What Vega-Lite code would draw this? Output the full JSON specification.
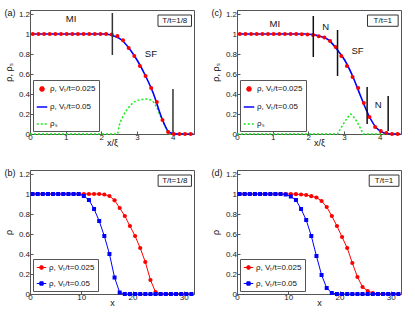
{
  "$schema": "https://vega.github.io/schema/vega-lite/v6.json",
  "padding": {"left": 3, "top": 8, "right": 5, "bottom": 5},
  "bounds": "flush",
  "columns": 2,
  "spacing": {"row": 36, "column": 43},
  "resolve": {"scale": {"x": "independent", "y": "independent", "color": "independent"}, "legend": {"color": "independent"}, "axis": {"x": "independent", "y": "independent"}},
  "datasets": {
    "A": [
      {"s": "r", "x": 0.079, "rho": 1}, {"s": "r", "x": 0.237, "rho": 1}, {"s": "r", "x": 0.395, "rho": 1}, {"s": "r", "x": 0.553, "rho": 1}, {"s": "r", "x": 0.711, "rho": 1}, {"s": "r", "x": 0.870, "rho": 1}, {"s": "r", "x": 1.028, "rho": 1}, {"s": "r", "x": 1.186, "rho": 1}, {"s": "r", "x": 1.344, "rho": 1}, {"s": "r", "x": 1.502, "rho": 1}, {"s": "r", "x": 1.660, "rho": 1}, {"s": "r", "x": 1.818, "rho": 1}, {"s": "r", "x": 1.976, "rho": 1}, {"s": "r", "x": 2.134, "rho": 1}, {"s": "r", "x": 2.293, "rho": 0.995}, {"s": "r", "x": 2.451, "rho": 0.98}, {"s": "r", "x": 2.609, "rho": 0.937}, {"s": "r", "x": 2.767, "rho": 0.86}, {"s": "r", "x": 2.925, "rho": 0.78}, {"s": "r", "x": 3.083, "rho": 0.68}, {"s": "r", "x": 3.241, "rho": 0.58}, {"s": "r", "x": 3.399, "rho": 0.46}, {"s": "r", "x": 3.557, "rho": 0.32}, {"s": "r", "x": 3.716, "rho": 0.14}, {"s": "r", "x": 3.874, "rho": 0.02}, {"s": "r", "x": 4.032, "rho": 0}, {"s": "r", "x": 4.190, "rho": 0}, {"s": "r", "x": 4.348, "rho": 0}, {"s": "r", "x": 4.506, "rho": 0},
      {"s": "b", "x": 0.112, "rho": 1}, {"s": "b", "x": 0.335, "rho": 1}, {"s": "b", "x": 0.559, "rho": 1}, {"s": "b", "x": 0.783, "rho": 1}, {"s": "b", "x": 1.006, "rho": 1}, {"s": "b", "x": 1.230, "rho": 1}, {"s": "b", "x": 1.453, "rho": 1}, {"s": "b", "x": 1.677, "rho": 1}, {"s": "b", "x": 1.901, "rho": 1}, {"s": "b", "x": 2.124, "rho": 1}, {"s": "b", "x": 2.348, "rho": 0.98}, {"s": "b", "x": 2.572, "rho": 0.94}, {"s": "b", "x": 2.795, "rho": 0.85}, {"s": "b", "x": 3.019, "rho": 0.73}, {"s": "b", "x": 3.242, "rho": 0.58}, {"s": "b", "x": 3.466, "rho": 0.40}, {"s": "b", "x": 3.690, "rho": 0.165}, {"s": "b", "x": 3.913, "rho": 0.015}, {"s": "b", "x": 4.137, "rho": 0}, {"s": "b", "x": 4.360, "rho": 0}, {"s": "b", "x": 4.584, "rho": 0},
      {"s": "g", "x": 0, "rho": 0}, {"s": "g", "x": 2.45, "rho": 0}, {"s": "g", "x": 2.5, "rho": 0.08}, {"s": "g", "x": 2.6, "rho": 0.17}, {"s": "g", "x": 2.78, "rho": 0.27}, {"s": "g", "x": 2.97, "rho": 0.33}, {"s": "g", "x": 3.27, "rho": 0.35}, {"s": "g", "x": 3.43, "rho": 0.33}, {"s": "g", "x": 3.55, "rho": 0.27}, {"s": "g", "x": 3.67, "rho": 0.17}, {"s": "g", "x": 3.76, "rho": 0.10}, {"s": "g", "x": 3.85, "rho": 0.03}, {"s": "g", "x": 3.92, "rho": 0}, {"s": "g", "x": 4.55, "rho": 0}
    ],
    "C": [
      {"s": "r", "x": 0.079, "rho": 1}, {"s": "r", "x": 0.237, "rho": 1}, {"s": "r", "x": 0.395, "rho": 1}, {"s": "r", "x": 0.553, "rho": 1}, {"s": "r", "x": 0.711, "rho": 1}, {"s": "r", "x": 0.870, "rho": 1}, {"s": "r", "x": 1.028, "rho": 1}, {"s": "r", "x": 1.186, "rho": 1}, {"s": "r", "x": 1.344, "rho": 1}, {"s": "r", "x": 1.502, "rho": 1}, {"s": "r", "x": 1.660, "rho": 1}, {"s": "r", "x": 1.818, "rho": 0.998}, {"s": "r", "x": 1.976, "rho": 0.995}, {"s": "r", "x": 2.134, "rho": 0.99}, {"s": "r", "x": 2.293, "rho": 0.978}, {"s": "r", "x": 2.451, "rho": 0.965}, {"s": "r", "x": 2.609, "rho": 0.93}, {"s": "r", "x": 2.767, "rho": 0.87}, {"s": "r", "x": 2.925, "rho": 0.78}, {"s": "r", "x": 3.083, "rho": 0.68}, {"s": "r", "x": 3.241, "rho": 0.57}, {"s": "r", "x": 3.399, "rho": 0.46}, {"s": "r", "x": 3.557, "rho": 0.31}, {"s": "r", "x": 3.716, "rho": 0.17}, {"s": "r", "x": 3.874, "rho": 0.07}, {"s": "r", "x": 4.032, "rho": 0.03}, {"s": "r", "x": 4.190, "rho": 0.01}, {"s": "r", "x": 4.348, "rho": 0}, {"s": "r", "x": 4.506, "rho": 0},
      {"s": "b", "x": 0.112, "rho": 1}, {"s": "b", "x": 0.335, "rho": 1}, {"s": "b", "x": 0.559, "rho": 1}, {"s": "b", "x": 0.783, "rho": 1}, {"s": "b", "x": 1.006, "rho": 1}, {"s": "b", "x": 1.230, "rho": 1}, {"s": "b", "x": 1.453, "rho": 1}, {"s": "b", "x": 1.677, "rho": 1}, {"s": "b", "x": 1.901, "rho": 1}, {"s": "b", "x": 2.124, "rho": 0.995}, {"s": "b", "x": 2.348, "rho": 0.975}, {"s": "b", "x": 2.572, "rho": 0.94}, {"s": "b", "x": 2.795, "rho": 0.85}, {"s": "b", "x": 3.019, "rho": 0.74}, {"s": "b", "x": 3.242, "rho": 0.58}, {"s": "b", "x": 3.466, "rho": 0.38}, {"s": "b", "x": 3.690, "rho": 0.19}, {"s": "b", "x": 3.913, "rho": 0.06}, {"s": "b", "x": 4.137, "rho": 0.01}, {"s": "b", "x": 4.360, "rho": 0}, {"s": "b", "x": 4.584, "rho": 0},
      {"s": "g", "x": 0, "rho": 0}, {"s": "g", "x": 2.82, "rho": 0}, {"s": "g", "x": 2.9, "rho": 0.05}, {"s": "g", "x": 3.0, "rho": 0.11}, {"s": "g", "x": 3.1, "rho": 0.165}, {"s": "g", "x": 3.19, "rho": 0.2}, {"s": "g", "x": 3.3, "rho": 0.16}, {"s": "g", "x": 3.4, "rho": 0.1}, {"s": "g", "x": 3.5, "rho": 0.03}, {"s": "g", "x": 3.54, "rho": 0}, {"s": "g", "x": 4.55, "rho": 0}
    ],
    "B": [
      {"s": "r", "x": 0.5, "rho": 1}, {"s": "r", "x": 1.5, "rho": 1}, {"s": "r", "x": 2.5, "rho": 1}, {"s": "r", "x": 3.5, "rho": 1}, {"s": "r", "x": 4.5, "rho": 1}, {"s": "r", "x": 5.5, "rho": 1}, {"s": "r", "x": 6.5, "rho": 1}, {"s": "r", "x": 7.5, "rho": 1}, {"s": "r", "x": 8.5, "rho": 1}, {"s": "r", "x": 9.5, "rho": 1}, {"s": "r", "x": 10.5, "rho": 1}, {"s": "r", "x": 11.5, "rho": 1}, {"s": "r", "x": 12.5, "rho": 1}, {"s": "r", "x": 13.5, "rho": 1}, {"s": "r", "x": 14.5, "rho": 0.995}, {"s": "r", "x": 15.5, "rho": 0.98}, {"s": "r", "x": 16.5, "rho": 0.937}, {"s": "r", "x": 17.5, "rho": 0.86}, {"s": "r", "x": 18.5, "rho": 0.78}, {"s": "r", "x": 19.5, "rho": 0.68}, {"s": "r", "x": 20.5, "rho": 0.58}, {"s": "r", "x": 21.5, "rho": 0.46}, {"s": "r", "x": 22.5, "rho": 0.32}, {"s": "r", "x": 23.5, "rho": 0.14}, {"s": "r", "x": 24.5, "rho": 0.02}, {"s": "r", "x": 25.5, "rho": 0}, {"s": "r", "x": 26.5, "rho": 0}, {"s": "r", "x": 27.5, "rho": 0}, {"s": "r", "x": 28.5, "rho": 0}, {"s": "r", "x": 29.5, "rho": 0}, {"s": "r", "x": 30.5, "rho": 0}, {"s": "r", "x": 31.5, "rho": 0},
      {"s": "b", "x": 0.5, "rho": 1}, {"s": "b", "x": 1.5, "rho": 1}, {"s": "b", "x": 2.5, "rho": 1}, {"s": "b", "x": 3.5, "rho": 1}, {"s": "b", "x": 4.5, "rho": 1}, {"s": "b", "x": 5.5, "rho": 1}, {"s": "b", "x": 6.5, "rho": 1}, {"s": "b", "x": 7.5, "rho": 1}, {"s": "b", "x": 8.5, "rho": 1}, {"s": "b", "x": 9.5, "rho": 1}, {"s": "b", "x": 10.5, "rho": 0.98}, {"s": "b", "x": 11.5, "rho": 0.94}, {"s": "b", "x": 12.5, "rho": 0.85}, {"s": "b", "x": 13.5, "rho": 0.73}, {"s": "b", "x": 14.5, "rho": 0.58}, {"s": "b", "x": 15.5, "rho": 0.40}, {"s": "b", "x": 16.5, "rho": 0.165}, {"s": "b", "x": 17.5, "rho": 0.015}, {"s": "b", "x": 18.5, "rho": 0}, {"s": "b", "x": 19.5, "rho": 0}, {"s": "b", "x": 20.5, "rho": 0}, {"s": "b", "x": 21.5, "rho": 0}, {"s": "b", "x": 22.5, "rho": 0}, {"s": "b", "x": 23.5, "rho": 0}, {"s": "b", "x": 24.5, "rho": 0}, {"s": "b", "x": 25.5, "rho": 0}, {"s": "b", "x": 26.5, "rho": 0}, {"s": "b", "x": 27.5, "rho": 0}, {"s": "b", "x": 28.5, "rho": 0}, {"s": "b", "x": 29.5, "rho": 0}, {"s": "b", "x": 30.5, "rho": 0}, {"s": "b", "x": 31.5, "rho": 0}
    ],
    "D": [
      {"s": "r", "x": 0.5, "rho": 1}, {"s": "r", "x": 1.5, "rho": 1}, {"s": "r", "x": 2.5, "rho": 1}, {"s": "r", "x": 3.5, "rho": 1}, {"s": "r", "x": 4.5, "rho": 1}, {"s": "r", "x": 5.5, "rho": 1}, {"s": "r", "x": 6.5, "rho": 1}, {"s": "r", "x": 7.5, "rho": 1}, {"s": "r", "x": 8.5, "rho": 1}, {"s": "r", "x": 9.5, "rho": 1}, {"s": "r", "x": 10.5, "rho": 1}, {"s": "r", "x": 11.5, "rho": 0.998}, {"s": "r", "x": 12.5, "rho": 0.995}, {"s": "r", "x": 13.5, "rho": 0.99}, {"s": "r", "x": 14.5, "rho": 0.978}, {"s": "r", "x": 15.5, "rho": 0.965}, {"s": "r", "x": 16.5, "rho": 0.93}, {"s": "r", "x": 17.5, "rho": 0.87}, {"s": "r", "x": 18.5, "rho": 0.78}, {"s": "r", "x": 19.5, "rho": 0.68}, {"s": "r", "x": 20.5, "rho": 0.57}, {"s": "r", "x": 21.5, "rho": 0.46}, {"s": "r", "x": 22.5, "rho": 0.31}, {"s": "r", "x": 23.5, "rho": 0.17}, {"s": "r", "x": 24.5, "rho": 0.07}, {"s": "r", "x": 25.5, "rho": 0.03}, {"s": "r", "x": 26.5, "rho": 0.01}, {"s": "r", "x": 27.5, "rho": 0}, {"s": "r", "x": 28.5, "rho": 0}, {"s": "r", "x": 29.5, "rho": 0}, {"s": "r", "x": 30.5, "rho": 0}, {"s": "r", "x": 31.5, "rho": 0},
      {"s": "b", "x": 0.5, "rho": 1}, {"s": "b", "x": 1.5, "rho": 1}, {"s": "b", "x": 2.5, "rho": 1}, {"s": "b", "x": 3.5, "rho": 1}, {"s": "b", "x": 4.5, "rho": 1}, {"s": "b", "x": 5.5, "rho": 1}, {"s": "b", "x": 6.5, "rho": 1}, {"s": "b", "x": 7.5, "rho": 1}, {"s": "b", "x": 8.5, "rho": 1}, {"s": "b", "x": 9.5, "rho": 0.995}, {"s": "b", "x": 10.5, "rho": 0.975}, {"s": "b", "x": 11.5, "rho": 0.94}, {"s": "b", "x": 12.5, "rho": 0.85}, {"s": "b", "x": 13.5, "rho": 0.74}, {"s": "b", "x": 14.5, "rho": 0.58}, {"s": "b", "x": 15.5, "rho": 0.38}, {"s": "b", "x": 16.5, "rho": 0.19}, {"s": "b", "x": 17.5, "rho": 0.06}, {"s": "b", "x": 18.5, "rho": 0.01}, {"s": "b", "x": 19.5, "rho": 0}, {"s": "b", "x": 20.5, "rho": 0}, {"s": "b", "x": 21.5, "rho": 0}, {"s": "b", "x": 22.5, "rho": 0}, {"s": "b", "x": 23.5, "rho": 0}, {"s": "b", "x": 24.5, "rho": 0}, {"s": "b", "x": 25.5, "rho": 0}, {"s": "b", "x": 26.5, "rho": 0}, {"s": "b", "x": 27.5, "rho": 0}, {"s": "b", "x": 28.5, "rho": 0}, {"s": "b", "x": 29.5, "rho": 0}, {"s": "b", "x": 30.5, "rho": 0}, {"s": "b", "x": 31.5, "rho": 0}
    ],
    "RA": [{"x": 2.31, "rho": 0.79, "rho2": 1.21}, {"x": 4.01, "rho": 0.017, "rho2": 0.45}],
    "RC": [{"x": 2.14, "rho": 0.77, "rho2": 1.18}, {"x": 2.82, "rho": 0.58, "rho2": 1.04}, {"x": 3.65, "rho": 0.10, "rho2": 0.47}, {"x": 4.24, "rho": 0.03, "rho2": 0.38}],
    "LA": [{"x": 1.15, "rho": 1.15, "t": "MI"}, {"x": 3.39, "rho": 0.8, "t": "SF"}],
    "LC": [{"x": 1.06, "rho": 1.1, "t": "MI"}, {"x": 2.49, "rho": 1.07, "t": "N"}, {"x": 3.38, "rho": 0.83, "t": "SF"}, {"x": 3.96, "rho": 0.29, "t": "N"}],
    "BA": [{"x": 3.59, "x2": 4.53, "rho": 1.077, "rho2": 1.19}],
    "TA": [{"x": 4.06, "rho": 1.133, "t": "T/t=1/8"}],
    "BC": [{"x": 3.66, "x2": 4.52, "rho": 1.077, "rho2": 1.19}],
    "TC": [{"x": 4.09, "rho": 1.133, "t": "T/t=1"}],
    "BB": [{"x": 25.0, "x2": 31.5, "rho": 1.077, "rho2": 1.19}],
    "TB": [{"x": 28.25, "rho": 1.133, "t": "T/t=1/8"}],
    "BD": [{"x": 25.8, "x2": 31.6, "rho": 1.077, "rho2": 1.19}],
    "TD": [{"x": 28.7, "rho": 1.133, "t": "T/t=1"}]
  },
  "concat": [
    {
      "width": 164, "height": 124,
      "title": {"text": "(a)"},
      "encoding": {
        "x": {"field": "x", "type": "quantitative", "scale": {"domain": [0, 4.6], "nice": false, "zero": false}, "axis": {"title": "x/ξ", "values": [0, 1, 2, 3, 4], "format": "~r"}},
        "y": {"field": "rho", "type": "quantitative", "scale": {"domain": [0, 1.24], "nice": false}, "axis": {"title": "ρ, ρₛ", "values": [0, 0.2, 0.4, 0.6, 0.8, 1, 1.2], "format": "~r"}}
      },
      "layer": [
        {"data": {"name": "A"}, "transform": [{"filter": "datum.s==='g'"}], "mark": {"type": "line", "strokeWidth": 1.5, "strokeDash": [2, 2], "interpolate": "monotone"},
         "encoding": {"color": {"field": "s", "type": "nominal", "scale": {"domain": ["r", "b", "g"], "range": ["#ff0000", "#0000ff", "#11ee11"]},
           "legend": {"orient": "bottom-left", "offset": 3, "title": null, "rowPadding": 7,
             "labelExpr": "datum.value==='r' ? 'ρ, Vₜ/t=0.025' : datum.value==='b' ? 'ρ, Vₜ/t=0.05' : 'ρₛ'",
             "encode": {"symbols": {"update": {
               "shape": {"signal": "datum.value==='r' ? 'circle' : 'stroke'"},
               "size": {"signal": "datum.value==='r' ? 16 : 110"},
               "fill": {"signal": "datum.value==='r' ? '#ff0000' : 'transparent'"},
               "stroke": {"signal": "datum.value==='r' ? 'transparent' : datum.value==='b' ? '#0000ff' : '#11ee11'"},
               "strokeWidth": {"value": 1.5},
               "strokeDash": {"signal": "datum.value==='g' ? [2,2] : [1,0]"},
               "opacity": {"value": 1}}}}}}}},
        {"data": {"name": "A"}, "transform": [{"filter": "datum.s==='b'"}], "mark": {"type": "line", "strokeWidth": 1.6, "interpolate": "monotone"},
         "encoding": {"color": {"field": "s", "type": "nominal"}}},
        {"data": {"name": "A"}, "transform": [{"filter": "datum.s==='r'"}], "mark": {"type": "point", "filled": true, "size": 16, "opacity": 1},
         "encoding": {"color": {"field": "s", "type": "nominal"}}},
        {"data": {"name": "RA"}, "mark": {"type": "rule", "color": "#333", "strokeWidth": 1.5}, "encoding": {"y2": {"field": "rho2"}}},
        {"data": {"name": "LA"}, "mark": {"type": "text", "fontSize": 9.5, "color": "#111"}, "encoding": {"text": {"field": "t"}}},
        {"data": {"name": "BA"}, "mark": {"type": "rect", "fill": "white", "stroke": "#333", "strokeWidth": 1}, "encoding": {"x2": {"field": "x2"}, "y2": {"field": "rho2"}}},
        {"data": {"name": "TA"}, "mark": {"type": "text", "fontSize": 8, "color": "#111"}, "encoding": {"text": {"field": "t"}}}
      ]
    },
    {
      "width": 164, "height": 124,
      "title": {"text": "(c)"},
      "encoding": {
        "x": {"field": "x", "type": "quantitative", "scale": {"domain": [0, 4.6], "nice": false, "zero": false}, "axis": {"title": "x/ξ", "values": [0, 1, 2, 3, 4], "format": "~r"}},
        "y": {"field": "rho", "type": "quantitative", "scale": {"domain": [0, 1.24], "nice": false}, "axis": {"title": "ρ, ρₛ", "values": [0, 0.2, 0.4, 0.6, 0.8, 1, 1.2], "format": "~r"}}
      },
      "layer": [
        {"data": {"name": "C"}, "transform": [{"filter": "datum.s==='g'"}], "mark": {"type": "line", "strokeWidth": 1.5, "strokeDash": [2, 2]},
         "encoding": {"color": {"field": "s", "type": "nominal", "scale": {"domain": ["r", "b", "g"], "range": ["#ff0000", "#0000ff", "#11ee11"]},
           "legend": {"orient": "bottom-left", "offset": 3, "title": null, "rowPadding": 7,
             "labelExpr": "datum.value==='r' ? 'ρ, Vₜ/t=0.025' : datum.value==='b' ? 'ρ, Vₜ/t=0.05' : 'ρₛ'",
             "encode": {"symbols": {"update": {
               "shape": {"signal": "datum.value==='r' ? 'circle' : 'stroke'"},
               "size": {"signal": "datum.value==='r' ? 16 : 110"},
               "fill": {"signal": "datum.value==='r' ? '#ff0000' : 'transparent'"},
               "stroke": {"signal": "datum.value==='r' ? 'transparent' : datum.value==='b' ? '#0000ff' : '#11ee11'"},
               "strokeWidth": {"value": 1.5},
               "strokeDash": {"signal": "datum.value==='g' ? [2,2] : [1,0]"},
               "opacity": {"value": 1}}}}}}}},
        {"data": {"name": "C"}, "transform": [{"filter": "datum.s==='b'"}], "mark": {"type": "line", "strokeWidth": 1.6, "interpolate": "monotone"},
         "encoding": {"color": {"field": "s", "type": "nominal"}}},
        {"data": {"name": "C"}, "transform": [{"filter": "datum.s==='r'"}], "mark": {"type": "point", "filled": true, "size": 16, "opacity": 1},
         "encoding": {"color": {"field": "s", "type": "nominal"}}},
        {"data": {"name": "RC"}, "mark": {"type": "rule", "color": "#111", "strokeWidth": 1.5}, "encoding": {"y2": {"field": "rho2"}}},
        {"data": {"name": "LC"}, "mark": {"type": "text", "fontSize": 9.5, "color": "#111"}, "encoding": {"text": {"field": "t"}}},
        {"data": {"name": "BC"}, "mark": {"type": "rect", "fill": "white", "stroke": "#333", "strokeWidth": 1}, "encoding": {"x2": {"field": "x2"}, "y2": {"field": "rho2"}}},
        {"data": {"name": "TC"}, "mark": {"type": "text", "fontSize": 8, "color": "#111"}, "encoding": {"text": {"field": "t"}}}
      ]
    },
    {
      "width": 164, "height": 124,
      "title": {"text": "(b)"},
      "encoding": {
        "x": {"field": "x", "type": "quantitative", "scale": {"domain": [0, 32], "nice": false, "zero": false}, "axis": {"title": "x", "values": [0, 10, 20, 30], "format": "d"}},
        "y": {"field": "rho", "type": "quantitative", "scale": {"domain": [0, 1.24], "nice": false}, "axis": {"title": "ρ", "values": [0, 0.2, 0.4, 0.6, 0.8, 1, 1.2], "format": "~r"}}
      },
      "layer": [
        {"data": {"name": "B"}, "transform": [{"filter": "datum.s==='r'"}], "mark": {"type": "line", "strokeWidth": 1, "point": {"filled": true, "size": 18, "shape": "circle"}},
         "encoding": {"color": {"field": "s", "type": "nominal", "scale": {"domain": ["r", "b"], "range": ["#ff0000", "#0000ff"]},
           "legend": {"orient": "bottom-left", "offset": 3, "title": null, "rowPadding": 6,
             "labelExpr": "datum.value==='r' ? 'ρ, Vₜ/t=0.025' : 'ρ, Vₜ/t=0.05'",
             "encode": {"symbols": {"update": {
               "shape": {"signal": "datum.value==='r' ? 'M-1,0H1M0.4,0A0.4,0.4,0,1,1,-0.4,0A0.4,0.4,0,1,1,0.4,0Z' : 'M-1,0H1M-0.35,-0.35H0.35V0.35H-0.35Z'"},
               "size": {"value": 90},
               "fill": {"signal": "datum.value==='r' ? '#ff0000' : '#0000ff'"},
               "stroke": {"signal": "datum.value==='r' ? '#ff0000' : '#0000ff'"},
               "strokeWidth": {"value": 1},
               "opacity": {"value": 1}}}}}}}},
        {"data": {"name": "B"}, "transform": [{"filter": "datum.s==='b'"}], "mark": {"type": "line", "strokeWidth": 1, "point": {"filled": true, "size": 16, "shape": "square"}},
         "encoding": {"color": {"field": "s", "type": "nominal"}}},
        {"data": {"name": "BB"}, "mark": {"type": "rect", "fill": "white", "stroke": "#333", "strokeWidth": 1}, "encoding": {"x2": {"field": "x2"}, "y2": {"field": "rho2"}}},
        {"data": {"name": "TB"}, "mark": {"type": "text", "fontSize": 8, "color": "#111"}, "encoding": {"text": {"field": "t"}}}
      ]
    },
    {
      "width": 164, "height": 124,
      "title": {"text": "(d)"},
      "encoding": {
        "x": {"field": "x", "type": "quantitative", "scale": {"domain": [0, 32], "nice": false, "zero": false}, "axis": {"title": "x", "values": [0, 10, 20, 30], "format": "d"}},
        "y": {"field": "rho", "type": "quantitative", "scale": {"domain": [0, 1.24], "nice": false}, "axis": {"title": "ρ", "values": [0, 0.2, 0.4, 0.6, 0.8, 1, 1.2], "format": "~r"}}
      },
      "layer": [
        {"data": {"name": "D"}, "transform": [{"filter": "datum.s==='r'"}], "mark": {"type": "line", "strokeWidth": 1, "point": {"filled": true, "size": 18, "shape": "circle"}},
         "encoding": {"color": {"field": "s", "type": "nominal", "scale": {"domain": ["r", "b"], "range": ["#ff0000", "#0000ff"]},
           "legend": {"orient": "bottom-left", "offset": 3, "title": null, "rowPadding": 6,
             "labelExpr": "datum.value==='r' ? 'ρ, Vₜ/t=0.025' : 'ρ, Vₜ/t=0.05'",
             "encode": {"symbols": {"update": {
               "shape": {"signal": "datum.value==='r' ? 'M-1,0H1M0.4,0A0.4,0.4,0,1,1,-0.4,0A0.4,0.4,0,1,1,0.4,0Z' : 'M-1,0H1M-0.35,-0.35H0.35V0.35H-0.35Z'"},
               "size": {"value": 90},
               "fill": {"signal": "datum.value==='r' ? '#ff0000' : '#0000ff'"},
               "stroke": {"signal": "datum.value==='r' ? '#ff0000' : '#0000ff'"},
               "strokeWidth": {"value": 1},
               "opacity": {"value": 1}}}}}}}},
        {"data": {"name": "D"}, "transform": [{"filter": "datum.s==='b'"}], "mark": {"type": "line", "strokeWidth": 1, "point": {"filled": true, "size": 16, "shape": "square"}},
         "encoding": {"color": {"field": "s", "type": "nominal"}}},
        {"data": {"name": "BD"}, "mark": {"type": "rect", "fill": "white", "stroke": "#333", "strokeWidth": 1}, "encoding": {"x2": {"field": "x2"}, "y2": {"field": "rho2"}}},
        {"data": {"name": "TD"}, "mark": {"type": "text", "fontSize": 8, "color": "#111"}, "encoding": {"text": {"field": "t"}}}
      ]
    }
  ],
  "config": {
    "font": "Liberation Sans",
    "view": {"stroke": "#555", "strokeWidth": 1},
    "axis": {"grid": false, "labelFont": "Liberation Sans", "labelFontSize": 8, "labelColor": "#222", "titleFont": "Liberation Sans", "titleFontSize": 9, "titleFontWeight": "normal", "titleColor": "#111", "domainColor": "#555", "tickColor": "#555", "tickSize": -3, "labelPadding": 2, "labelFlush": false, "labelOverlap": false},
    "axisX": {"titlePadding": -3},
    "axisY": {"titlePadding": 5, "labelPadding": 3.5},
    "legend": {"labelFont": "Liberation Sans", "labelFontSize": 8, "labelColor": "#111", "padding": 3, "fillColor": "white", "strokeColor": "#555", "labelOffset": 2, "labelLimit": 300, "symbolLimit": 0},
    "title": {"anchor": "start", "frame": "bounds", "font": "Liberation Sans", "fontSize": 9, "fontWeight": "normal", "offset": -8, "color": "#111"}
  }
}
